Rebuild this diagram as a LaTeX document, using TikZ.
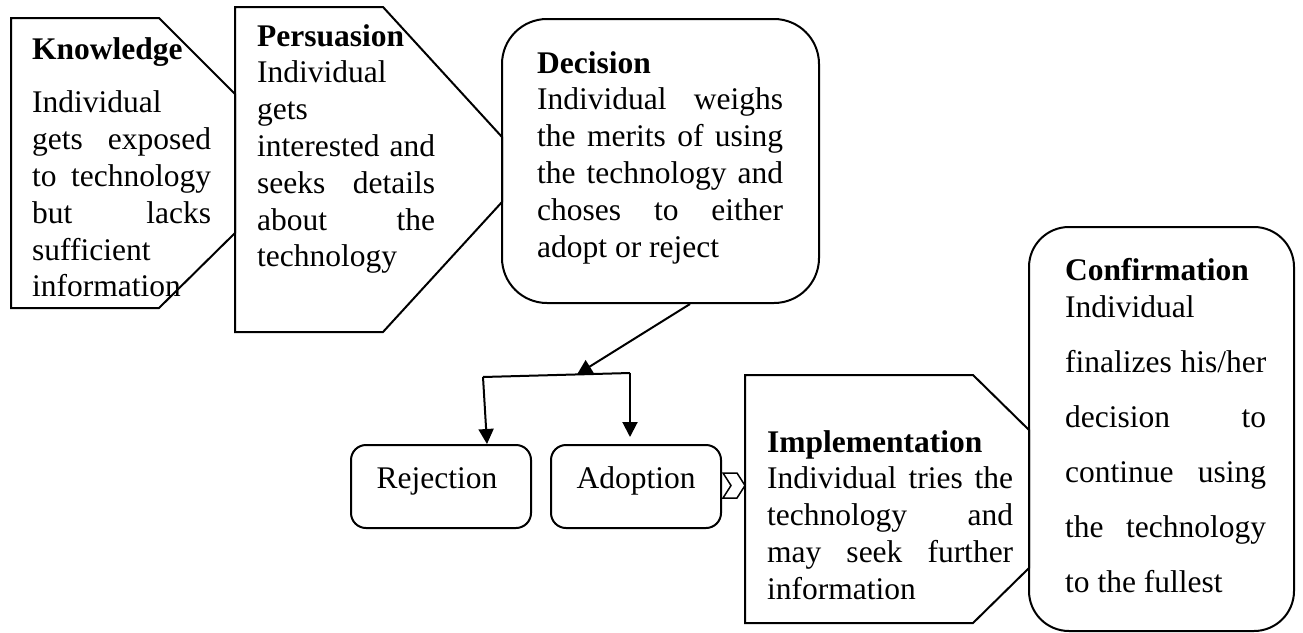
\documentclass[tikz,border=0pt]{standalone}
\usepackage{fontspec}
\setmainfont{Liberation Serif}
\usetikzlibrary{arrows.meta,calc}
\newcommand{\jline}[1]{\makebox[\linewidth][s]{#1}}
\tikzset{
  shp/.style={draw, line width=2pt, line join=miter},
  rbox/.style={draw, line width=2pt, inner sep=0pt},
  txt/.style={anchor=base west, inner sep=0pt, font=\fontsize{31.5}{36.8}\selectfont},
  lbl/.style={anchor=base, inner sep=0pt, font=\fontsize{31.5}{36.8}\selectfont},
  conn/.style={line width=2pt, -{Triangle[width=15pt,length=15pt]}},
}
\begin{document}
\begin{tikzpicture}[x=1pt,y=-1pt]
\useasboundingbox (0,0) rectangle (1303,632);
% Knowledge
\draw[shp] (11,18) -- (159,18) -- (235,94) -- (235,233) -- (159,308) -- (11,308) -- cycle;
% Persuasion
\draw[shp] (235,7) -- (383,7) -- (502,137) -- (502,202) -- (383,332) -- (235,332) -- cycle;
% Decision
\node[rbox, rounded corners=45pt, minimum width=317pt, minimum height=284pt] (dec) at (660.5,161) {};
% Implementation
\draw[shp] (745,375) -- (973,375) -- (1029,430) -- (1029,568) -- (973,623) -- (745,623) -- cycle;
% Confirmation
\node[rbox, rounded corners=40pt, minimum width=265pt, minimum height=404pt] (conf) at (1161.5,429) {};
% Rejection / Adoption
\node[rbox, rounded corners=15pt, minimum width=180pt, minimum height=83pt] (rej) at (441,486.5) {};
\node[rbox, rounded corners=15pt, minimum width=170pt, minimum height=83pt] (adp) at (636,486.5) {};
\node[lbl] (rejt) at (437,488) {Rejection};
\node[lbl] (adpt) at (636,488) {Adoption};
% chevron
\draw[line width=1.5pt, fill=white, line join=miter] (723,473) -- (737,473) -- (745,485.5) -- (737,498) -- (723,498) -- (731,485.5) -- cycle;
% texts
\node[txt] (kt) at (32,59) {\parbox[t]{179pt}{\textbf{Knowledge}\\[17pt]
Individual\\
\jline{gets exposed}\\
\jline{to technology}\\
\jline{but lacks}\\
sufficient\\
information}};
\node[txt] (pt) at (257,46) {\parbox[t]{178pt}{\textbf{Persuasion}\\
Individual\\
gets\\
\jline{interested and}\\
\jline{seeks details}\\
\jline{about the}\\
technology}};
\node[txt] (dt) at (537,73) {\parbox[t]{246pt}{\textbf{Decision}\\
\jline{Individual weighs}\\
\jline{the merits of using}\\
\jline{the technology and}\\
\jline{choses to either}\\
adopt or reject}};
\node[txt] (it) at (767,452) {\parbox[t]{246pt}{\textbf{Implementation}\\
\jline{Individual tries the}\\
\jline{technology and}\\
\jline{may seek further}\\
information}};
\node[txt, font=\fontsize{31.5}{55}\selectfont] (ct) at (1065,280) {\parbox[t]{201pt}{\textbf{Confirmation}\\[-18pt]
Individual\\
\jline{finalizes his/her}\\
\jline{decision to}\\
\jline{continue using}\\
\jline{the technology}\\
to the fullest}};
% connectors
\coordinate (bl) at (483,377);
\coordinate (br) at (630,373);
\coordinate (bm) at (577,374.5);
\draw[conn] ($(dec.south)+(29.5,0)$) -- (bm);
\draw[line width=2pt] (bl) -- (br);
\draw[conn] (bl) -- ($(rej.north)+(46,0)$);
\draw[conn] (br) -- ($(adp.north)+(-6,-7)$);
\end{tikzpicture}
\end{document}
